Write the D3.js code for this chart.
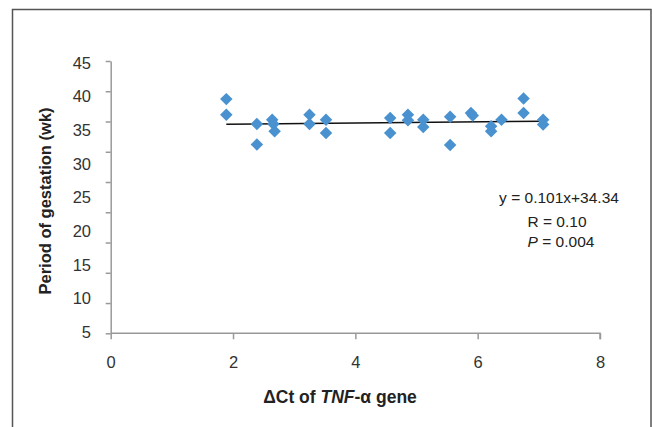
<!DOCTYPE html>
<html>
<head>
<meta charset="utf-8">
<script src="https://cdn.jsdelivr.net/npm/d3@7"></script>
<style>
  html, body { margin: 0; padding: 0; background: #fff; }
  svg { display: block; font-family: "Liberation Sans", Arial, sans-serif; }
</style>
</head>
<body>
<svg id="chart" width="652" height="427"></svg>
<script>
// ---- data ----
const deltaCt = [1.89, 1.89, 2.39, 2.39, 2.64, 2.66, 2.68, 3.25, 3.25, 3.52, 3.52,
                 4.57, 4.57, 4.86, 4.86, 5.11, 5.11, 5.55, 5.55, 5.89, 5.92,
                 6.22, 6.22, 6.39, 6.75, 6.75, 7.07, 7.07];
const gestation = [38.7, 36.1, 34.6, 31.2, 35.3, 34.6, 33.4, 36.1, 34.6, 35.3, 33.1,
                   35.6, 33.1, 36.1, 35.2, 35.3, 34.1, 35.8, 31.1, 36.4, 36.0,
                   34.2, 33.4, 35.3, 38.8, 36.4, 35.3, 34.5];
const xTicks = [0, 2, 4, 6, 8];
const yTickValues = [0, 5, 10, 15, 20, 25, 30, 35, 40, 45];
const yTickLabels = ["45", "40", "35", "30", "25", "20", "15", "10", "5"];
const slope = 0.101, intercept = 34.34;
const fitRange = [1.89, 7.07];
const statLines = ["y = 0.101x+34.34", "R = 0.10", "P = 0.004"];

// ---- drawing ----
(function () {
const svg = d3.select("#chart");
const mLeft = 110.7, mRight = 600, mTop = 61, mBottom = 333.3;

// outer frame
svg.append("rect")
  .attr("x", 12.5).attr("y", 9.5)
  .attr("width", 638.5).attr("height", 430)
  .attr("fill", "none").attr("stroke", "#555").attr("stroke-width", 1.5);

const x = d3.scaleLinear().domain([0, 8]).range([mLeft, mRight]);
const y = d3.scaleLinear().domain([0, 45]).range([mBottom, mTop]);

// y axis (ticks only, labels placed separately)
const yAxis = svg.append("g")
  .attr("transform", `translate(${mLeft},0)`)
  .call(d3.axisLeft(y).tickValues(yTickValues).tickFormat("").tickSize(5).tickSizeOuter(0));
yAxis.selectAll("path, line").attr("stroke", "#999").attr("stroke-width", 1.5);

const yLab = d3.scalePoint().domain(yTickLabels).range([63, 332]);
svg.append("g").selectAll("text").data(yTickLabels).join("text")
  .attr("x", 91).attr("y", d => yLab(d))
  .attr("dy", "0.35em")
  .attr("text-anchor", "end")
  .attr("font-size", 16.5).attr("fill", "#333")
  .text(d => d);

// x axis
const xAxis = svg.append("g")
  .attr("transform", `translate(0,${mBottom})`)
  .call(d3.axisBottom(x).tickValues(xTicks).tickSize(6).tickSizeOuter(0).tickPadding(17));
xAxis.selectAll("path, line").attr("stroke", "#999").attr("stroke-width", 1.5);
xAxis.selectAll("text").attr("font-size", 16.5).attr("fill", "#333")
  .attr("font-family", "Liberation Sans, Arial, sans-serif");
xAxis.select(".domain").attr("d", `M${mLeft},0H${mRight}V6`);

// regression line
svg.append("line")
  .attr("x1", x(fitRange[0])).attr("y1", y(slope * fitRange[0] + intercept))
  .attr("x2", x(fitRange[1])).attr("y2", y(slope * fitRange[1] + intercept))
  .attr("stroke", "#111").attr("stroke-width", 1.5);

// points
const pts = deltaCt.map((d, i) => [d, gestation[i]]);
const sym = d3.symbol().type(d3.symbolSquare).size(78);
svg.append("g").selectAll("path").data(pts).join("path")
  .attr("d", sym)
  .attr("transform", d => `translate(${x(d[0])},${y(d[1])}) rotate(45)`)
  .attr("fill", "#4a91d0");

// stats text
const stat = svg.append("g").attr("font-size", 15.5).attr("fill", "#222").attr("text-anchor", "middle");
stat.append("text").attr("x", 559).attr("y", 198).attr("dy", "0.35em").text(statLines[0]);
stat.append("text").attr("x", 557).attr("y", 221.5).attr("dy", "0.35em").text(statLines[1]);
const pt = stat.append("text").attr("x", 561).attr("y", 242).attr("dy", "0.35em");
pt.append("tspan").attr("font-style", "italic").text(statLines[2].slice(0, 1));
pt.append("tspan").text(statLines[2].slice(1));

// axis titles
svg.append("text")
  .attr("transform", "translate(45,201) rotate(-90)")
  .attr("dy", "0.35em")
  .attr("text-anchor", "middle")
  .attr("font-size", 16.5).attr("font-weight", "bold").attr("fill", "#222")
  .text("Period of gestation (wk)");

const xt = svg.append("text")
  .attr("x", 340).attr("y", 397).attr("dy", "0.35em")
  .attr("text-anchor", "middle")
  .attr("font-size", 17.5).attr("font-weight", "bold").attr("fill", "#222");
xt.append("tspan").text("\u0394Ct of ");
xt.append("tspan").attr("font-style", "italic").text("TNF");
xt.append("tspan").text("-\u03b1 gene");
})();
</script>
</body>
</html>
